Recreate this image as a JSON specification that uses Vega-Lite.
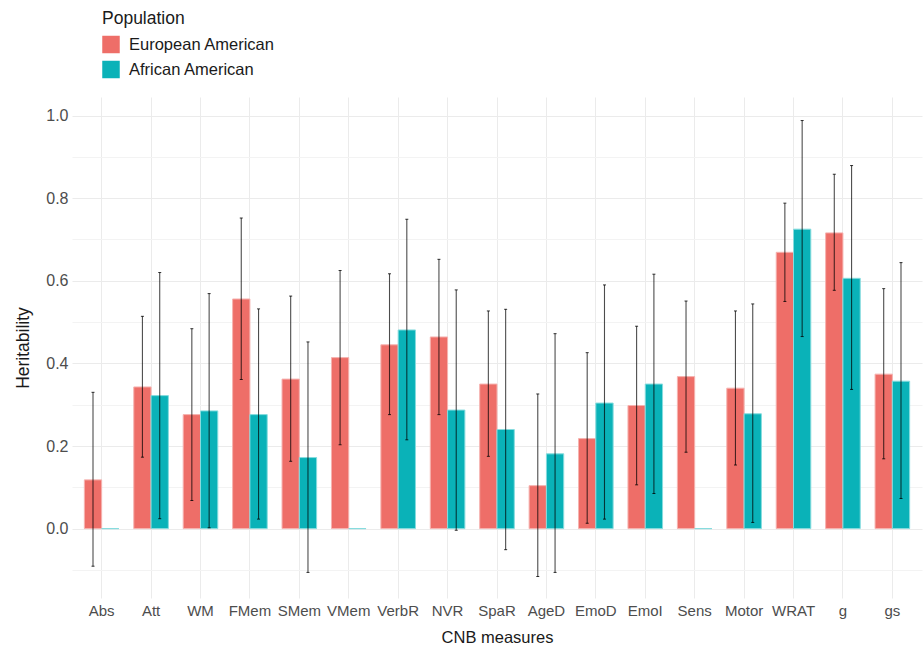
{
  "$schema": "https://vega.github.io/schema/vega-lite/v6.json",
  "width": 850,
  "height": 501,
  "autosize": {"type": "none"},
  "padding": {"left": 72, "top": 97, "right": 1, "bottom": 49},
  "background": "white",
  "config": {
    "font": "Liberation Sans",
    "view": {"stroke": null},
    "axis": {"domain": false, "ticks": false}
  },
  "data": {
    "values": [
      {"measure": "Abs", "pop": "European American", "h2": 0.118, "lo": -0.091, "hi": 0.330},
      {"measure": "Abs", "pop": "African American", "h2": 0.0, "lo": null, "hi": null},
      {"measure": "Att", "pop": "European American", "h2": 0.343, "lo": 0.173, "hi": 0.514},
      {"measure": "Att", "pop": "African American", "h2": 0.322, "lo": 0.024, "hi": 0.620},
      {"measure": "WM", "pop": "European American", "h2": 0.276, "lo": 0.068, "hi": 0.484},
      {"measure": "WM", "pop": "African American", "h2": 0.285, "lo": 0.002, "hi": 0.569},
      {"measure": "FMem", "pop": "European American", "h2": 0.556, "lo": 0.361, "hi": 0.752},
      {"measure": "FMem", "pop": "African American", "h2": 0.276, "lo": 0.023, "hi": 0.532},
      {"measure": "SMem", "pop": "European American", "h2": 0.362, "lo": 0.163, "hi": 0.563},
      {"measure": "SMem", "pop": "African American", "h2": 0.172, "lo": -0.106, "hi": 0.452},
      {"measure": "VMem", "pop": "European American", "h2": 0.414, "lo": 0.203, "hi": 0.625},
      {"measure": "VMem", "pop": "African American", "h2": 0.0, "lo": null, "hi": null},
      {"measure": "VerbR", "pop": "European American", "h2": 0.445, "lo": 0.276, "hi": 0.617},
      {"measure": "VerbR", "pop": "African American", "h2": 0.481, "lo": 0.215, "hi": 0.749},
      {"measure": "NVR", "pop": "European American", "h2": 0.464, "lo": 0.276, "hi": 0.652},
      {"measure": "NVR", "pop": "African American", "h2": 0.287, "lo": -0.004, "hi": 0.578},
      {"measure": "SpaR", "pop": "European American", "h2": 0.350, "lo": 0.175, "hi": 0.527},
      {"measure": "SpaR", "pop": "African American", "h2": 0.240, "lo": -0.051, "hi": 0.531},
      {"measure": "AgeD", "pop": "European American", "h2": 0.104, "lo": -0.116, "hi": 0.326},
      {"measure": "AgeD", "pop": "African American", "h2": 0.181, "lo": -0.106, "hi": 0.472},
      {"measure": "EmoD", "pop": "European American", "h2": 0.218, "lo": 0.013, "hi": 0.426},
      {"measure": "EmoD", "pop": "African American", "h2": 0.304, "lo": 0.023, "hi": 0.590},
      {"measure": "EmoI", "pop": "European American", "h2": 0.298, "lo": 0.106, "hi": 0.490},
      {"measure": "EmoI", "pop": "African American", "h2": 0.350, "lo": 0.085, "hi": 0.616},
      {"measure": "Sens", "pop": "European American", "h2": 0.368, "lo": 0.185, "hi": 0.551},
      {"measure": "Sens", "pop": "African American", "h2": 0.0, "lo": null, "hi": null},
      {"measure": "Motor", "pop": "European American", "h2": 0.340, "lo": 0.154, "hi": 0.527},
      {"measure": "Motor", "pop": "African American", "h2": 0.278, "lo": 0.015, "hi": 0.544},
      {"measure": "WRAT", "pop": "European American", "h2": 0.669, "lo": 0.550, "hi": 0.788},
      {"measure": "WRAT", "pop": "African American", "h2": 0.725, "lo": 0.465, "hi": 0.988},
      {"measure": "g", "pop": "European American", "h2": 0.716, "lo": 0.577, "hi": 0.858},
      {"measure": "g", "pop": "African American", "h2": 0.606, "lo": 0.337, "hi": 0.879},
      {"measure": "gs", "pop": "European American", "h2": 0.374, "lo": 0.169, "hi": 0.581},
      {"measure": "gs", "pop": "African American", "h2": 0.357, "lo": 0.073, "hi": 0.644}
    ]
  },
  "encoding": {
    "x": {
      "field": "measure",
      "type": "nominal",
      "sort": null,
      "scale": {"paddingInner": 0.3, "paddingOuter": 0.25},
      "axis": {
        "title": "CNB measures",
        "labelAngle": 0,
        "labelFontSize": 15,
        "labelColor": "#4D4D4D",
        "labelPadding": 5,
        "titleFontSize": 16.5,
        "titleFontWeight": "normal",
        "titleColor": "#1A1A1A",
        "titlePadding": 11,
        "grid": true,
        "gridColor": "#EBEBEB",
        "bandPosition": 0.5
      }
    },
    "xOffset": {
      "field": "pop",
      "type": "nominal",
      "sort": ["European American", "African American"]
    }
  },
  "layer": [
    {
      "mark": {"type": "bar", "strokeWidth": 1},
      "encoding": {
        "y": {
          "field": "h2",
          "type": "quantitative",
          "scale": {"domain": [-0.168, 1.045], "nice": false, "zero": false},
          "axis": {
            "title": "Heritability",
            "values": [-0.1, 0, 0.1, 0.2, 0.3, 0.4, 0.5, 0.6, 0.7, 0.8, 0.9, 1.0],
            "labelExpr": "round(datum.value*10) % 2 == 0 ? format(datum.value, '.1f') : ''",
            "labelFontSize": 16,
            "labelColor": "#4D4D4D",
            "labelPadding": 4,
            "titleFontSize": 17.5,
            "titleFontWeight": "normal",
            "titleColor": "#1A1A1A",
            "titlePadding": 13,
            "grid": true,
            "gridColor": {"condition": {"test": "round(datum.value*10) % 2 == 0", "value": "#EBEBEB"}, "value": "#F3F3F3"}
          }
        },
        "color": {
          "field": "pop",
          "type": "nominal",
          "scale": {"domain": ["European American", "African American"], "range": ["#EE6E68", "#0AB2B8"]},
          "legend": {
            "title": "Population",
            "orient": "none",
            "legendX": 30,
            "legendY": -87,
            "direction": "vertical",
            "symbolType": "square",
            "symbolSize": 306,
            "symbolStrokeWidth": 0,
            "symbolOpacity": 1,
            "labelFontSize": 16.5,
            "labelColor": "#1A1A1A",
            "labelOffset": 9,
            "titleFontSize": 17.5,
            "titleFontWeight": "normal",
            "titleColor": "#1A1A1A",
            "titlePadding": 8,
            "rowPadding": 7
          }
        },
        "stroke": {
          "field": "pop",
          "type": "nominal",
          "scale": {"domain": ["European American", "African American"], "range": ["#F6B3B0", "#86DCDE"]},
          "legend": null
        }
      }
    },
    {
      "transform": [{"filter": "datum.lo != null"}],
      "mark": {"type": "rule", "color": "black", "opacity": 0.7, "strokeWidth": 1.1},
      "encoding": {
        "y": {"field": "lo", "type": "quantitative"},
        "y2": {"field": "hi"}
      }
    },
    {
      "transform": [{"filter": "datum.lo != null"}],
      "mark": {"type": "tick", "color": "black", "opacity": 0.8, "size": 3, "thickness": 1},
      "encoding": {
        "y": {"field": "lo", "type": "quantitative"}
      }
    },
    {
      "transform": [{"filter": "datum.lo != null"}],
      "mark": {"type": "tick", "color": "black", "opacity": 0.8, "size": 3, "thickness": 1},
      "encoding": {
        "y": {"field": "hi", "type": "quantitative"}
      }
    }
  ]
}
